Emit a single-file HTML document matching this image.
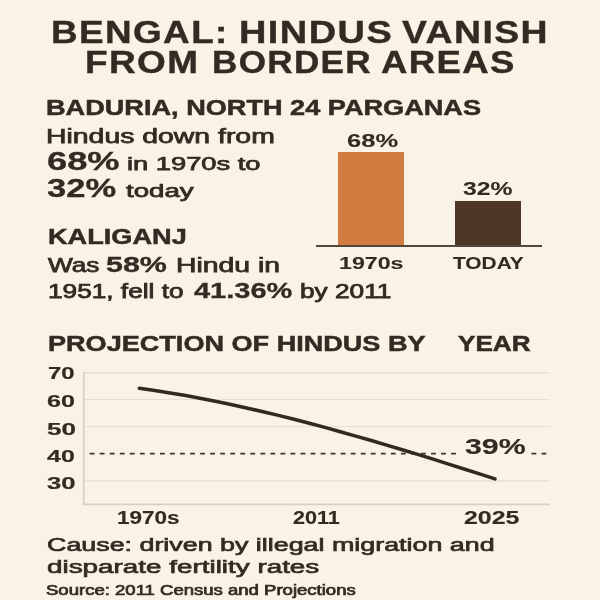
<!DOCTYPE html>
<html><head><meta charset="utf-8"><style>
html,body{margin:0;padding:0;}
body{width:600px;height:600px;overflow:hidden;background:#f9f3e6;position:relative;font-family:"Liberation Sans",sans-serif;color:#352a23;}
.t{position:absolute;white-space:nowrap;line-height:1;transform-origin:0 0;will-change:transform;}
.t b{font-weight:700;}
</style></head><body>
<div style="position:absolute;left:338.3px;top:152px;width:66px;height:93.5px;background:#d17d41;"></div>
<div style="position:absolute;left:455px;top:200.5px;width:66px;height:45px;background:#4f3727;"></div>
<div style="position:absolute;left:316px;top:245px;width:225.5px;height:1.9px;background:#51473f;"></div>
<svg style="position:absolute;left:0;top:0" width="600" height="600" viewBox="0 0 600 600">
 <g stroke="#e6decf" stroke-width="1.2">
  <line x1="84" y1="372.8" x2="550" y2="372.8"/>
  <line x1="84" y1="399.5" x2="550" y2="399.5"/>
  <line x1="84" y1="426.5" x2="550" y2="426.5"/>
  <line x1="84" y1="480.8" x2="550" y2="480.8"/>
 </g>
 <g stroke="#d8cfbf" stroke-width="1.7">
  <line x1="84" y1="504.3" x2="550" y2="504.3"/>
  <line x1="83.8" y1="372" x2="83.8" y2="505"/>
 </g>
 <line x1="89.7" y1="453.6" x2="547" y2="453.6" stroke="#3f352d" stroke-width="1.7" stroke-dasharray="4.8 5.24"/>
 <rect x="457" y="440" width="73" height="20" fill="#f9f3e6"/>
 <path d="M139.3 388.3 L154.8 390.5 L170.2 393.0 L185.7 395.6 L201.2 398.5 L216.6 401.5 L232.1 404.8 L247.6 408.2 L263.0 411.7 L278.5 415.4 L294.0 419.3 L309.4 423.3 L324.9 427.4 L340.3 431.7 L355.8 436.1 L371.3 440.5 L386.7 445.1 L402.2 449.7 L417.7 454.4 L433.1 459.2 L448.6 464.1 L464.1 469.0 L479.5 473.9 L495.0 478.9" fill="none" stroke="#33291f" stroke-width="3.5" stroke-linecap="round" stroke-linejoin="round"/>
</svg>

<div class="t" id="t1a" style="left:50.66px;top:16.60px;font-size:31.5px;font-weight:700;transform:scaleX(1.1702);-webkit-text-stroke:0.4px #352a23;letter-spacing:1.2px;">BENGAL:</div>
<div class="t" id="t1b" style="left:238.53px;top:16.60px;font-size:31.5px;font-weight:700;transform:scaleX(1.2049);-webkit-text-stroke:0.4px #352a23;letter-spacing:1.2px;">HINDUS</div>
<div class="t" id="t1c" style="left:402.00px;top:16.60px;font-size:31.5px;font-weight:700;transform:scaleX(1.1864);-webkit-text-stroke:0.4px #352a23;letter-spacing:1.2px;">VANISH</div>
<div class="t" id="t2a" style="left:84.65px;top:46.60px;font-size:31.5px;font-weight:700;transform:scaleX(1.1729);-webkit-text-stroke:0.4px #352a23;letter-spacing:1.2px;">FROM</div>
<div class="t" id="t2b" style="left:211.77px;top:46.60px;font-size:31.5px;font-weight:700;transform:scaleX(1.1129);-webkit-text-stroke:0.4px #352a23;letter-spacing:1.2px;">BORDER</div>
<div class="t" id="t2c" style="left:380.84px;top:46.60px;font-size:31.5px;font-weight:700;transform:scaleX(1.1598);-webkit-text-stroke:0.4px #352a23;letter-spacing:1.2px;">AREAS</div>
<div class="t" id="h1" style="left:46.43px;top:96.82px;font-size:21.6px;font-weight:700;transform:scaleX(1.2561);-webkit-text-stroke:0.5px #352a23;">BADURIA, NORTH 24 PARGANAS</div>
<div class="t" id="p1" style="left:45.55px;top:127.01px;font-size:19.6px;font-weight:400;transform:scaleX(1.4488);-webkit-text-stroke:0.75px #352a23;">Hindus down from</div>
<div class="t" id="p2a" style="left:46.57px;top:149.20px;font-size:24.9px;font-weight:700;transform:scaleX(1.4581);-webkit-text-stroke:0.3px #352a23;">68%</div>
<div class="t" id="p2b" style="left:126.54px;top:155.21px;font-size:18.75px;font-weight:400;transform:scaleX(1.4556);-webkit-text-stroke:0.75px #352a23;">in 1970s to</div>
<div class="t" id="p3a" style="left:46.99px;top:176.20px;font-size:24.9px;font-weight:700;transform:scaleX(1.3881);-webkit-text-stroke:0.3px #352a23;">32%</div>
<div class="t" id="p3b" style="left:125.98px;top:180.81px;font-size:19px;font-weight:400;transform:scaleX(1.4568);-webkit-text-stroke:0.75px #352a23;">today</div>
<div class="t" id="h2" style="left:48.45px;top:225.71px;font-size:21.9px;font-weight:700;transform:scaleX(1.2402);-webkit-text-stroke:0.5px #352a23;">KALIGANJ</div>
<div class="t" id="p4a" style="left:47.67px;top:256.21px;font-size:19.3px;font-weight:400;transform:scaleX(1.3601);-webkit-text-stroke:0.75px #352a23;">Was</div>
<div class="t" id="p4b" style="left:106.30px;top:255.21px;font-size:21.5px;font-weight:700;transform:scaleX(1.4160);-webkit-text-stroke:0.3px #352a23;">58%</div>
<div class="t" id="p4c" style="left:175.75px;top:256.21px;font-size:19.3px;font-weight:400;transform:scaleX(1.4707);-webkit-text-stroke:0.75px #352a23;">Hindu in</div>
<div class="t" id="p5a" style="left:47.63px;top:281.90px;font-size:19.3px;font-weight:400;transform:scaleX(1.3594);-webkit-text-stroke:0.75px #352a23;">1951, fell to</div>
<div class="t" id="p5b" style="left:193.64px;top:281.01px;font-size:21.5px;font-weight:700;transform:scaleX(1.3474);-webkit-text-stroke:0.3px #352a23;">41.36%</div>
<div class="t" id="p5c" style="left:299.69px;top:281.91px;font-size:19.3px;font-weight:400;transform:scaleX(1.3614);-webkit-text-stroke:0.75px #352a23;">by 2011</div>
<div class="t" id="b1" style="left:346.85px;top:131.82px;font-size:18.8px;font-weight:700;transform:scaleX(1.3595);-webkit-text-stroke:0.1px #352a23;">68%</div>
<div class="t" id="b2" style="left:462.62px;top:179.60px;font-size:18.8px;font-weight:700;transform:scaleX(1.3177);-webkit-text-stroke:0.1px #352a23;">32%</div>
<div class="t" id="b3" style="left:338.90px;top:254.82px;font-size:17.2px;font-weight:700;transform:scaleX(1.3485);-webkit-text-stroke:0.1px #352a23;">1970s</div>
<div class="t" id="b4" style="left:453.44px;top:254.72px;font-size:17.3px;font-weight:700;transform:scaleX(1.2070);-webkit-text-stroke:0.1px #352a23;">TODAY</div>
<div class="t" id="pr" style="left:48.27px;top:332.50px;font-size:22px;font-weight:700;transform:scaleX(1.2306);-webkit-text-stroke:0.5px #352a23;">PROJECTION OF HINDUS BY</div>
<div class="t" id="pr2" style="left:457.74px;top:332.50px;font-size:22px;font-weight:700;transform:scaleX(1.1864);-webkit-text-stroke:0.5px #352a23;">YEAR</div>
<div class="t" id="y70" style="left:47.70px;top:365.81px;font-size:16.6px;font-weight:700;transform:scaleX(1.4363);-webkit-text-stroke:0.2px #352a23;">70</div>
<div class="t" id="y60" style="left:47.12px;top:393.61px;font-size:16.6px;font-weight:700;transform:scaleX(1.5137);-webkit-text-stroke:0.2px #352a23;">60</div>
<div class="t" id="y50" style="left:47.14px;top:421.51px;font-size:16.6px;font-weight:700;transform:scaleX(1.5692);-webkit-text-stroke:0.2px #352a23;">50</div>
<div class="t" id="y40" style="left:46.51px;top:448.81px;font-size:16.6px;font-weight:700;transform:scaleX(1.5036);-webkit-text-stroke:0.2px #352a23;">40</div>
<div class="t" id="y30" style="left:46.63px;top:475.82px;font-size:16.6px;font-weight:700;transform:scaleX(1.5463);-webkit-text-stroke:0.2px #352a23;">30</div>
<div class="t" id="p39" style="left:464.80px;top:436.20px;font-size:22.6px;font-weight:700;transform:scaleX(1.3426);-webkit-text-stroke:0.15px #352a23;">39%</div>
<div class="t" id="x1" style="left:116.73px;top:509.61px;font-size:17.8px;font-weight:700;transform:scaleX(1.2656);-webkit-text-stroke:0.15px #352a23;">1970s</div>
<div class="t" id="x2" style="left:292.78px;top:509.61px;font-size:17.8px;font-weight:700;transform:scaleX(1.2138);-webkit-text-stroke:0.15px #352a23;">2011</div>
<div class="t" id="x3" style="left:463.97px;top:509.81px;font-size:17.8px;font-weight:700;transform:scaleX(1.4024);-webkit-text-stroke:0.15px #352a23;">2025</div>
<div class="t" id="f1" style="left:46.60px;top:534.80px;font-size:19.2px;font-weight:400;transform:scaleX(1.3988);-webkit-text-stroke:0.7px #352a23;">Cause: driven by illegal migration and</div>
<div class="t" id="f2" style="left:46.55px;top:556.70px;font-size:19.2px;font-weight:400;transform:scaleX(1.4506);-webkit-text-stroke:0.7px #352a23;">disparate fertility rates</div>
<div class="t" id="f3" style="left:46.34px;top:583.31px;font-size:14px;font-weight:400;transform:scaleX(1.3237);-webkit-text-stroke:0.7px #352a23;">Source: 2011 Census and Projections</div>
</body></html>
